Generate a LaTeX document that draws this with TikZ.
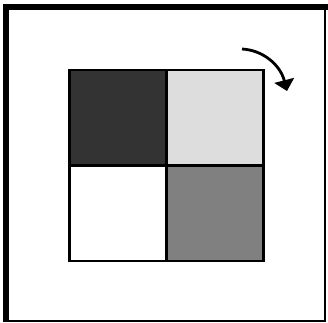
\documentclass[tikz,border=0pt]{standalone}
\usetikzlibrary{arrows.meta}
\definecolor{cdark}{HTML}{333333}
\definecolor{clight}{HTML}{DDDDDD}
\definecolor{cmid}{HTML}{808080}
\tikzset{
  cell/.style={draw=black, line width=2.5pt, minimum width=97pt, minimum height=95.5pt, inner sep=0pt, outer sep=0pt},
  rot/.style={line width=2.8pt, -{Triangle[width=20pt,length=11pt]}},
}
\begin{document}
\begin{tikzpicture}[x=1pt,y=-1pt]
\useasboundingbox (0,0) rectangle (328,322);
% frame
\draw[line width=6pt] (6,322) -- (6,7) -- (328,7);
\draw[line width=2pt] (6,320.5) -- (324.5,320.5) -- (324.5,7);
% grid cells
\node[cell, fill=cdark, anchor=north west] (tl) at (69.5,70) {};
\node[cell, fill=clight, anchor=north west] (tr) at (166.5,70) {};
\node[cell, fill=white, anchor=north west] (bl) at (69.5,165.5) {};
\node[cell, fill=cmid, anchor=north west] (br) at (166.5,165.5) {};
% rotation arrow
\coordinate (as) at (242,49);
\coordinate (ae) at (287,91);
\draw[rot] (as) .. controls (262,50) and (280,64) .. (ae);
\end{tikzpicture}
\end{document}
